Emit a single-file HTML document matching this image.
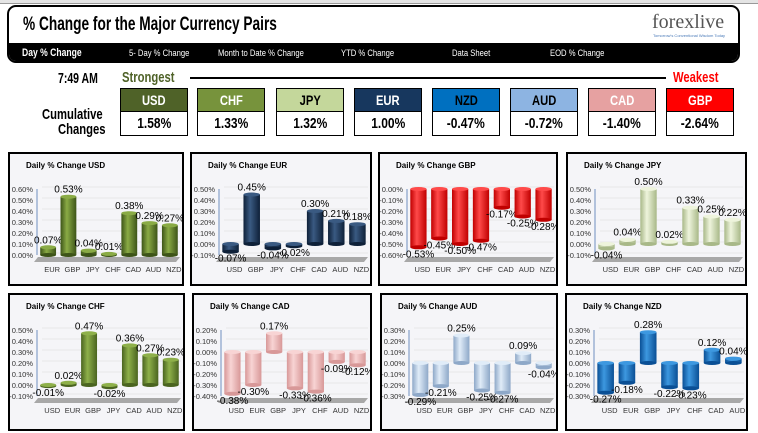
<!DOCTYPE html>
<html><head><meta charset="utf-8">
<style>
*{margin:0;padding:0;box-sizing:border-box}
body{width:758px;height:433px;background:#fff;position:relative;overflow:hidden;font-family:"Liberation Sans",sans-serif}
.abs{position:absolute}
.sq{transform:scaleX(0.75);transform-origin:0 0;font-weight:bold;white-space:nowrap}
.cb{position:absolute;width:68px;height:24px;border:1px solid #000;color:#fff;font-size:14px;text-align:center;line-height:23px;font-weight:bold}
.vb{position:absolute;width:68px;height:24px;border:1px solid #000;border-top:none;color:#000;font-size:15px;text-align:center;line-height:23px;background:#fff;font-weight:bold}
.cb span,.vb span{display:inline-block;transform:scaleX(0.8)}
.nav{position:absolute;top:48px;color:#fff;font-size:9px;transform:scaleX(0.85);transform-origin:0 0;white-space:nowrap}
.panel{position:absolute;border:2px solid #000;background:#f5f5f8}
</style></head><body>
<div class="abs" style="left:0;top:0;width:758px;height:4px;background:#e4e4e4;border-bottom:1px solid #999"></div>
<div class="abs" style="left:7px;top:5px;width:733px;height:58px;border:2px solid #000;border-radius:9px;overflow:hidden;background:#fff">
  <div class="abs" style="left:0;top:36px;width:100%;height:22px;background:#000"></div>
</div>
<div class="abs sq" style="left:23px;top:14px;font-size:19px;color:#000;transform:scaleX(0.72)">% Change for the Major Currency Pairs</div>
<div class="abs" style="left:652px;top:11px;font-family:'Liberation Serif',serif;font-size:20px;color:#555">forexlive</div>
<div class="abs" style="left:653px;top:33px;font-size:4px;color:#4a7ab8">Tomorrow's Conventional Wisdom Today</div>
<div class="nav" style="left:22px;top:47px;font-size:11px;font-weight:bold;transform:scaleX(0.78)">Day % Change</div>
<div class="nav" style="left:129px">5- Day % Change</div>
<div class="nav" style="left:218px">Month to Date % Change</div>
<div class="nav" style="left:341px">YTD % Change</div>
<div class="nav" style="left:452px">Data Sheet</div>
<div class="nav" style="left:550px">EOD % Change</div>

<div class="abs sq" style="left:58px;top:70px;font-size:15px;transform:scaleX(0.7)">7:49 AM</div>
<div class="abs sq" style="left:122px;top:69px;font-size:15px;color:#4f6228">Strongest</div>
<div class="abs" style="left:190px;top:77px;width:476px;height:2px;background:#000"></div>
<div class="abs sq" style="left:673px;top:69px;font-size:15px;color:#f00">Weakest</div>
<div class="abs sq" style="left:42px;top:106px;font-size:15px">Cumulative</div>
<div class="abs sq" style="left:58px;top:121px;font-size:15px">Changes</div>
<div id="boxes"></div>

<div id="panels"></div>

<script>
// strength row data
const rankCur=["USD","CHF","JPY","EUR","NZD","AUD","CAD","GBP"];
const rankVal=["1.58%","1.33%","1.32%","1.00%","-0.47%","-0.72%","-1.40%","-2.64%"];
const boxColors={USD:"#4f6228",CHF:"#77933c",JPY:"#c4d79b",EUR:"#17375e",NZD:"#0070c0",AUD:"#8db4e2",CAD:"#e6a1a1",GBP:"#ff0000"};
const boxX=[120,197,276,354,432,510,588,666];
const bx=document.getElementById('boxes');
rankCur.forEach((c,i)=>{
  const h=document.createElement('div');h.className='cb';
  
  
  h.style.left=boxX[i]+'px';h.style.top='88px';h.style.background=boxColors[c];
  if(c==="JPY"||c==="AUD"||c==="NZD")h.style.color="#000";
  h.innerHTML='<span>'+c+'</span>';bx.appendChild(h);
  const v=document.createElement('div');v.className='vb';
  
  
  v.style.left=boxX[i]+'px';v.style.top='112px';v.innerHTML='<span>'+rankVal[i]+'</span>';bx.appendChild(v);
});

// chart data
const usdCats=["EUR","GBP","JPY","CHF","CAD","AUD","NZD"];
const usdVals=[0.07,0.53,0.04,0.01,0.38,0.29,0.27];
const usdTicks=[0,0.1,0.2,0.3,0.4,0.5,0.6];
const eurCats=["USD","GBP","JPY","CHF","CAD","AUD","NZD"];
const eurVals=[-0.07,0.45,-0.04,-0.02,0.30,0.21,0.18];
const eurTicks=[-0.1,0,0.1,0.2,0.3,0.4,0.5];
const gbpCats=["USD","EUR","JPY","CHF","CAD","AUD","NZD"];
const gbpVals=[-0.53,-0.45,-0.50,-0.47,-0.17,-0.25,-0.28];
const gbpTicks=[-0.6,-0.5,-0.4,-0.3,-0.2,-0.1,0];
const jpyCats=["USD","EUR","GBP","CHF","CAD","AUD","NZD"];
const jpyVals=[-0.04,0.04,0.50,0.02,0.33,0.25,0.22];
const jpyTicks=[-0.1,0,0.1,0.2,0.3,0.4,0.5];
const chfCats=["USD","EUR","GBP","JPY","CAD","AUD","NZD"];
const chfVals=[-0.01,0.02,0.47,-0.02,0.36,0.27,0.23];
const chfTicks=[-0.1,0,0.1,0.2,0.3,0.4,0.5];
const cadCats=["USD","EUR","GBP","JPY","CHF","AUD","NZD"];
const cadVals=[-0.38,-0.30,0.17,-0.33,-0.36,-0.09,-0.12];
const cadTicks=[-0.4,-0.3,-0.2,-0.1,0,0.1,0.2];
const audCats=["USD","EUR","GBP","JPY","CHF","CAD","NZD"];
const audVals=[-0.29,-0.21,0.25,-0.25,-0.27,0.09,-0.04];
const audTicks=[-0.3,-0.2,-0.1,0,0.1,0.2,0.3];
const nzdCats=["USD","EUR","GBP","JPY","CHF","CAD","AUD"];
const nzdVals=[-0.27,-0.18,0.28,-0.22,-0.23,0.12,0.04];
const nzdTicks=[-0.3,-0.2,-0.1,0,0.1,0.2,0.3];

const charts=[
 {id:"usd",title:"Daily % Change USD",cats:usdCats,vals:usdVals,ticks:usdTicks,col:["#3d5418","#8aab45"],x:8,y:152,w:176,h:134},
 {id:"eur",title:"Daily % Change EUR",cats:eurCats,vals:eurVals,ticks:eurTicks,col:["#0e2038","#3a5a82"],x:190,y:152,w:182,h:134},
 {id:"gbp",title:"Daily % Change GBP",cats:gbpCats,vals:gbpVals,ticks:gbpTicks,col:["#c00000","#ff4a4a"],x:378,y:152,w:180,h:134},
 {id:"jpy",title:"Daily % Change JPY",cats:jpyCats,vals:jpyVals,ticks:jpyTicks,col:["#a8b888","#eef4dc"],x:566,y:152,w:181,h:134},
 {id:"chf",title:"Daily % Change CHF",cats:chfCats,vals:chfVals,ticks:chfTicks,col:["#4a6420","#8eb04a"],x:8,y:293,w:177,h:138},
 {id:"cad",title:"Daily % Change CAD",cats:cadCats,vals:cadVals,ticks:cadTicks,col:["#d89898","#f8d4d4"],x:192,y:293,w:180,h:138},
 {id:"aud",title:"Daily % Change AUD",cats:audCats,vals:audVals,ticks:audTicks,col:["#8ea8c8","#e0ecf8"],x:380,y:293,w:178,h:138},
 {id:"nzd",title:"Daily % Change NZD",cats:nzdCats,vals:nzdVals,ticks:nzdTicks,col:["#0a4f95","#3d98e0"],x:565,y:293,w:183,h:138}
];
const NS="http://www.w3.org/2000/svg";
const host=document.getElementById('panels');
function mk(tag,attrs,parent){const e=document.createElementNS(NS,tag);for(const k in attrs)e.setAttribute(k,attrs[k]);if(parent)parent.appendChild(e);return e;}
function fmt(v){return v.toFixed(2)+"%";}
charts.forEach(c=>{
  const div=document.createElement('div');div.className='panel';
  
  
  div.style.left=c.x+'px';div.style.top=c.y+'px';div.style.width=c.w+'px';div.style.height=c.h+'px';
  host.appendChild(div);
  const W=c.w-4,H=c.h-4;
  const svg=mk('svg',{width:W,height:H,viewBox:`0 0 ${W} ${H}`},div);
  svg.style.position='absolute';svg.style.left='0';svg.style.top='0';
  const defs=mk('defs',{},svg);
  const g=mk('linearGradient',{id:'g'+c.id,x1:0,x2:1,y1:0,y2:0},defs);
  mk('stop',{offset:'0','stop-color':c.col[0]},g);
  mk('stop',{offset:'0.4','stop-color':c.col[1]},g);
  mk('stop',{offset:'1','stop-color':c.col[0]},g);
  const t=mk('text',{x:16,y:14,'font-size':8,'font-weight':'bold',fill:'#000'},svg);t.textContent=c.title;
  
  
  const top=35,bot=101;
  const tmin=c.ticks[0],tmax=c.ticks[c.ticks.length-1];
  const yS=v=>bot-(v-tmin)/(tmax-tmin)*(bot-top);
  const plotL=28,plotR=W-2;
  const step=(plotR-plotL)/c.cats.length;
  const xS=i=>plotL+step*(i+0.5);
  c.ticks.forEach(tv=>{
    const yy=yS(tv);
    mk('line',{x1:plotL+4,x2:plotR,y1:yy-2,y2:yy-2,stroke:'#e2e2e2','stroke-width':0.8},svg);
    const tl=mk('text',{x:plotL-5,y:yy+3,'font-size':7.5,'text-anchor':'end',fill:'#333'},svg);
    tl.textContent=fmt(tv);
    
    
  });
  mk('line',{x1:plotL-1,x2:plotL-1,y1:top,y2:bot,stroke:'#6f8fc0','stroke-width':1},svg);
  const fy=yS(tmin)+2;
  mk('polygon',{points:`${plotL},${fy} ${plotR},${fy} ${plotR-4},${fy+5} ${plotL-4},${fy+5}`,fill:'#a8a8a8'},svg);
  const z=yS(0);
  c.vals.forEach((v,i)=>{
    const cx=xS(i),bw=step*0.78;
    const y1=Math.min(yS(v),z),y2=Math.max(yS(v),z);
    const grp=mk('g',{},svg);
    
    
    mk('rect',{x:cx-bw/2,y:y1,width:bw,height:Math.max(y2-y1,1),fill:`url(#g${c.id})`},grp);
    mk('ellipse',{cx:cx,cy:y2,rx:bw/2,ry:2,fill:c.col[0]},grp);
    mk('ellipse',{cx:cx,cy:y1,rx:bw/2,ry:2,fill:c.col[1]},grp);
    const vl=mk('text',{x:cx,y:v>=0?y1-4:y2+10,'font-size':10,'text-anchor':'middle',fill:'#000'},svg);
    vl.textContent=fmt(v);
    
    
    const cl=mk('text',{x:cx+4,y:fy+15,'font-size':7.5,'text-anchor':'middle',fill:'#333'},svg);
    cl.textContent=c.cats[i];
    
    
  });
});
</script>
</body></html>
